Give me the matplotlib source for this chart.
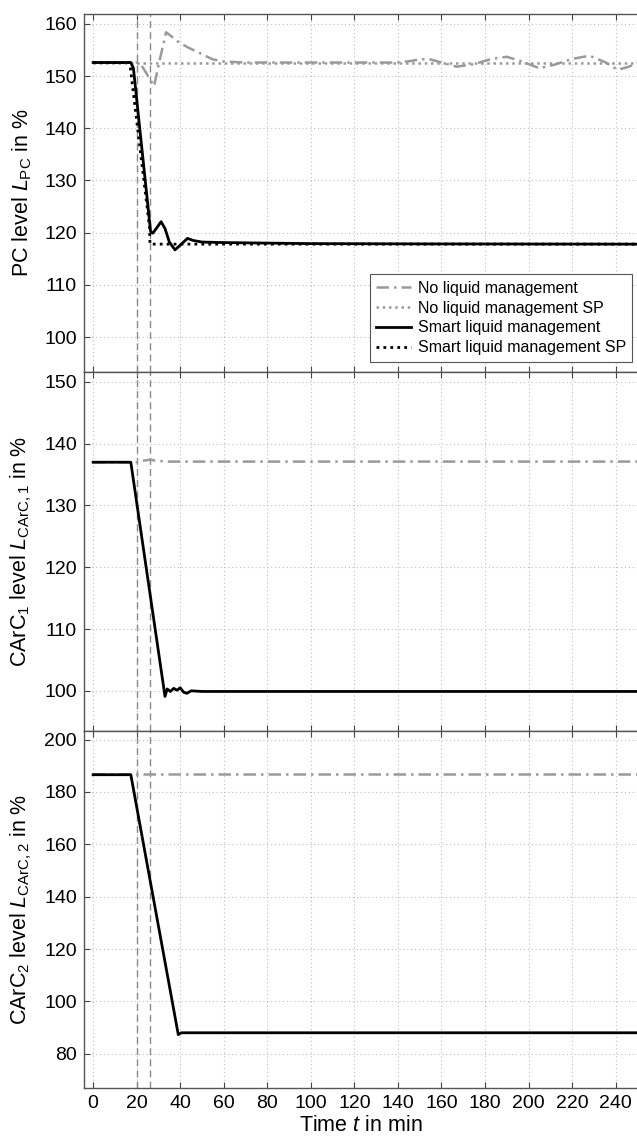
import matplotlib
matplotlib.use("Agg")
import matplotlib.pyplot as plt

plt.rcParams['font.family'] = ['Liberation Sans', 'DejaVu Sans']
plt.rcParams['mathtext.fontset'] = 'custom'
plt.rcParams['mathtext.rm'] = 'Liberation Sans'
plt.rcParams['mathtext.it'] = 'Liberation Sans:italic'
plt.rcParams['mathtext.bf'] = 'Liberation Sans:bold'

# ---------------- data ----------------
# Top panel: PC level
pc_nlm_t = [0, 20, 20.8, 22, 25.4, 28, 30, 33.5, 36, 40, 44, 47.6, 52, 55, 60, 70, 100, 140,
            146, 150, 154, 160, 167, 175, 183, 190, 197, 205, 212, 220, 228, 235, 241, 246, 250]
pc_nlm_L = [152.6, 152.6, 152.5, 152.2, 149.9, 148.1, 152.0, 158.4, 157.6, 156.3, 155.4, 154.7,
            153.8, 153.2, 152.8, 152.6, 152.6, 152.6, 152.9, 153.2, 153.3, 152.6, 151.8, 152.3,
            153.3, 153.7, 152.8, 151.5, 152.2, 153.3, 153.9, 152.7, 151.2, 151.8, 152.5]
pc_nlm_sp_t = [0, 250]
pc_nlm_sp_L = [152.6, 152.6]
pc_slm_t = [0, 17.3, 18.5, 26.4, 27.4, 29, 31.2, 33, 35, 37.6, 40, 43.3, 46, 50, 60, 80, 100, 150, 250]
pc_slm_L = [152.6, 152.6, 151.5, 120.2, 119.9, 120.8, 122.1, 120.8, 118.2, 116.7, 117.6, 118.9,
            118.5, 118.2, 118.1, 118.0, 117.9, 117.85, 117.8]
pc_slm_sp_t = [0, 16.8, 25.9, 26.1, 250]
pc_slm_sp_L = [152.6, 152.6, 121.0, 117.8, 117.8]

# Middle panel: CArC1 level
c1_nlm_t = [0, 20, 22, 26, 30, 35, 250]
c1_nlm_L = [137.0, 137.0, 137.2, 137.4, 137.2, 137.1, 137.1]
c1_slm_t = [0, 17.3, 33.0, 34.0, 35.5, 37, 38.5, 40, 41.5, 43, 45, 50, 250]
c1_slm_L = [137.0, 137.0, 99.1, 100.3, 99.9, 100.4, 100.1, 100.5, 99.8, 99.6, 100.0, 99.9, 99.9]

# Bottom panel: CArC2 level
c2_nlm_t = [0, 250]
c2_nlm_L = [186.7, 186.7]
c2_slm_t = [0, 17.3, 39.1, 40.5, 250]
c2_slm_L = [186.6, 186.6, 87.3, 88.0, 88.0]

event_times = [20, 26]
x_ticks = list(range(0, 241, 20))
pc_yticks = [100, 110, 120, 130, 140, 150, 160]
c1_yticks = [100, 110, 120, 130, 140, 150]
c2_yticks = [80, 100, 120, 140, 160, 180, 200]

labels = ["No liquid management", "No liquid management SP",
          "Smart liquid management", "Smart liquid management SP"]

# ---------------- figure ----------------
W, H = 637, 1138
fig = plt.figure(figsize=(W / 100, H / 100), dpi=100)

left = 84 / W
right = 1.0
def box(top_px, bot_px):
    return [left, 1 - bot_px / H, right - left, (bot_px - top_px) / H]

ax1 = fig.add_axes(box(14, 372))
ax2 = fig.add_axes(box(372, 731), sharex=ax1)
ax3 = fig.add_axes(box(731, 1088), sharex=ax1)

gray = '#9a9a9a'
kw_nlm = dict(color=gray, lw=1.8, ls=(0, (5, 2, 1, 2)))
kw_nlm_sp = dict(color=gray, lw=1.8, ls=(0, (1, 1.5)))
kw_slm = dict(color='black', lw=2.0, ls='-')
kw_slm_sp = dict(color='black', lw=2.0, ls=(0, (1, 1.5)))

ax1.plot(pc_nlm_t, pc_nlm_L, label=labels[0], **kw_nlm)
ax1.plot(pc_nlm_sp_t, pc_nlm_sp_L, label=labels[1], **kw_nlm_sp)
ax1.plot(pc_slm_sp_t, pc_slm_sp_L, label=labels[3], **kw_slm_sp)
ax1.plot(pc_slm_t, pc_slm_L, label=labels[2], **kw_slm)

ax2.plot(c1_nlm_t, c1_nlm_L, **kw_nlm)
ax2.plot(c1_slm_t, c1_slm_L, **kw_slm)

ax3.plot(c2_nlm_t, c2_nlm_L, **kw_nlm)
ax3.plot(c2_slm_t, c2_slm_L, **kw_slm)

for ax in (ax1, ax2, ax3):
    for te in event_times:
        ax.axvline(te, color='#8a8a8a', lw=1.0, ls=(0, (5, 3)), zorder=1)
    ax.grid(True, color='#bdbdbd', lw=0.8, ls=(0, (1, 2.5)))
    ax.set_axisbelow(True)
    ax.tick_params(direction='in', length=4, labelsize=14, color='#444444',
                   top=True, right=False, pad=5)
    for s in ax.spines.values():
        s.set_color('#555555')
        s.set_linewidth(1.0)
    ax.spines['right'].set_visible(False)
    ax.set_xlim(-4.2, 249.8)
    ax.set_xticks(x_ticks)

ax1.set_ylim(93.3, 161.9)
ax1.set_yticks(pc_yticks)
ax2.set_ylim(93.5, 151.6)
ax2.set_yticks(c1_yticks)
ax3.set_ylim(66.9, 203.3)
ax3.set_yticks(c2_yticks)

ax1.tick_params(labelbottom=False)
ax2.tick_params(labelbottom=False)

lab_fs = 15.5
ax1.set_ylabel(r"PC level $L_{\mathrm{PC}}$ in %", fontsize=lab_fs)
ax2.set_ylabel(r"CArC$_1$ level $L_{\mathrm{CArC,1}}$ in %", fontsize=lab_fs)
ax3.set_ylabel(r"CArC$_2$ level $L_{\mathrm{CArC,2}}$ in %", fontsize=lab_fs)
ax3.set_xlabel(r"Time $t$ in min", fontsize=lab_fs, labelpad=2)
for ax in (ax1, ax2, ax3):
    ax.yaxis.set_label_coords(-0.09, 0.5)

handles, labs = ax1.get_legend_handles_labels()
order = [labs.index(l) for l in labels]
leg = ax1.legend([handles[i] for i in order], [labs[i] for i in order],
                 loc='lower right', bbox_to_anchor=(0.997, 0.02),
                 fontsize=11.5, frameon=True, fancybox=False, framealpha=1,
                 edgecolor='#555555', handlelength=2.2, handletextpad=0.4,
                 borderpad=0.4, labelspacing=0.3, borderaxespad=0.2)
leg.get_frame().set_linewidth(0.8)

fig.savefig("out.png", dpi=100)
